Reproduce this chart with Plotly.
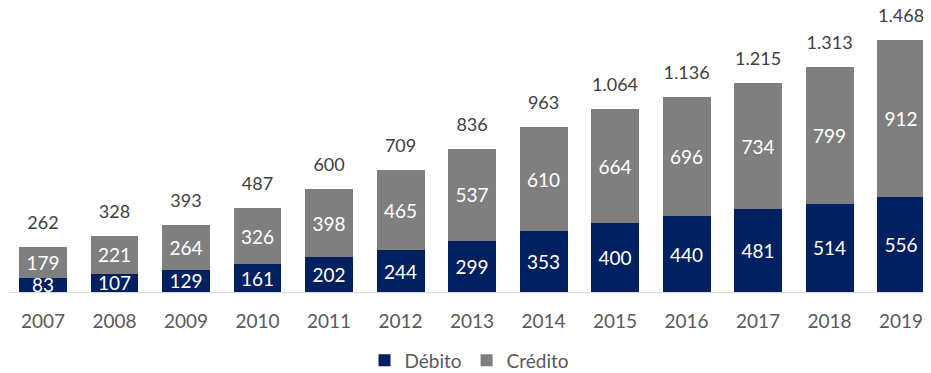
import plotly.graph_objects as go

anos = [str(a) for a in range(2007, 2020)]
debito = [83, 107, 129, 161, 202, 244, 299, 353, 400, 440, 481, 514, 556]
credito = [179, 221, 264, 326, 398, 465, 537, 610, 664, 696, 734, 799, 912]
totais = [262, 328, 393, 487, 600, 709, 836, 963, 1064, 1136, 1215, 1313, 1468]

fonte = "Lato, 'Open Sans', sans-serif"
rotulos_totais = [f"{v:,}".replace(",", ".") for v in totais]

fig = go.Figure()
fig.add_trace(go.Bar(
    x=anos, y=debito, name="Débito",
    marker=dict(color="#002060", line=dict(width=0)),
    text=debito, textposition="inside", insidetextanchor="middle",
    constraintext="none", textangle=0,
    textfont=dict(color="white", size=19, family=fonte),
))
fig.add_trace(go.Bar(
    x=anos, y=credito, name="Crédito",
    marker=dict(color="#7f7f7f", line=dict(width=0)),
    text=credito, textposition="inside", insidetextanchor="middle",
    constraintext="none", textangle=0,
    textfont=dict(color="white", size=19, family=fonte),
))
# marcador invisivel so para afastar o total do topo da barra
fig.add_trace(go.Scatter(
    x=anos, y=totais, mode="markers+text", text=rotulos_totais,
    marker=dict(size=20, color="rgba(0,0,0,0)"), hoverinfo="skip",
    textposition="top center", showlegend=False, cliponaxis=False,
    textfont=dict(color="#404040", size=18, family=fonte),
))

# a pagina tem 8px de margem no body, por isso a figura e menor
fig.update_layout(
    barmode="stack",
    bargap=0.33,
    width=923, height=365,
    margin=dict(l=2, r=2, t=2, b=81, autoexpand=False),
    paper_bgcolor="white", plot_bgcolor="white",
    font=dict(family=fonte, color="#595959"),
    legend=dict(orientation="h", x=0.5, xanchor="center",
                y=-0.175, yanchor="top",
                font=dict(size=19, color="#595959"), traceorder="normal",
                itemwidth=30),
    xaxis=dict(type="category", range=[-0.4615, 12.39], showline=True,
               linecolor="#d9d9d9", linewidth=1, automargin=False,
               ticks="outside", ticklen=12, tickcolor="rgba(0,0,0,0)",
               tickfont=dict(size=19, color="#595959")),
    yaxis=dict(range=[0, 1643], visible=False, showgrid=False),
)

fig.write_html("out.html")
